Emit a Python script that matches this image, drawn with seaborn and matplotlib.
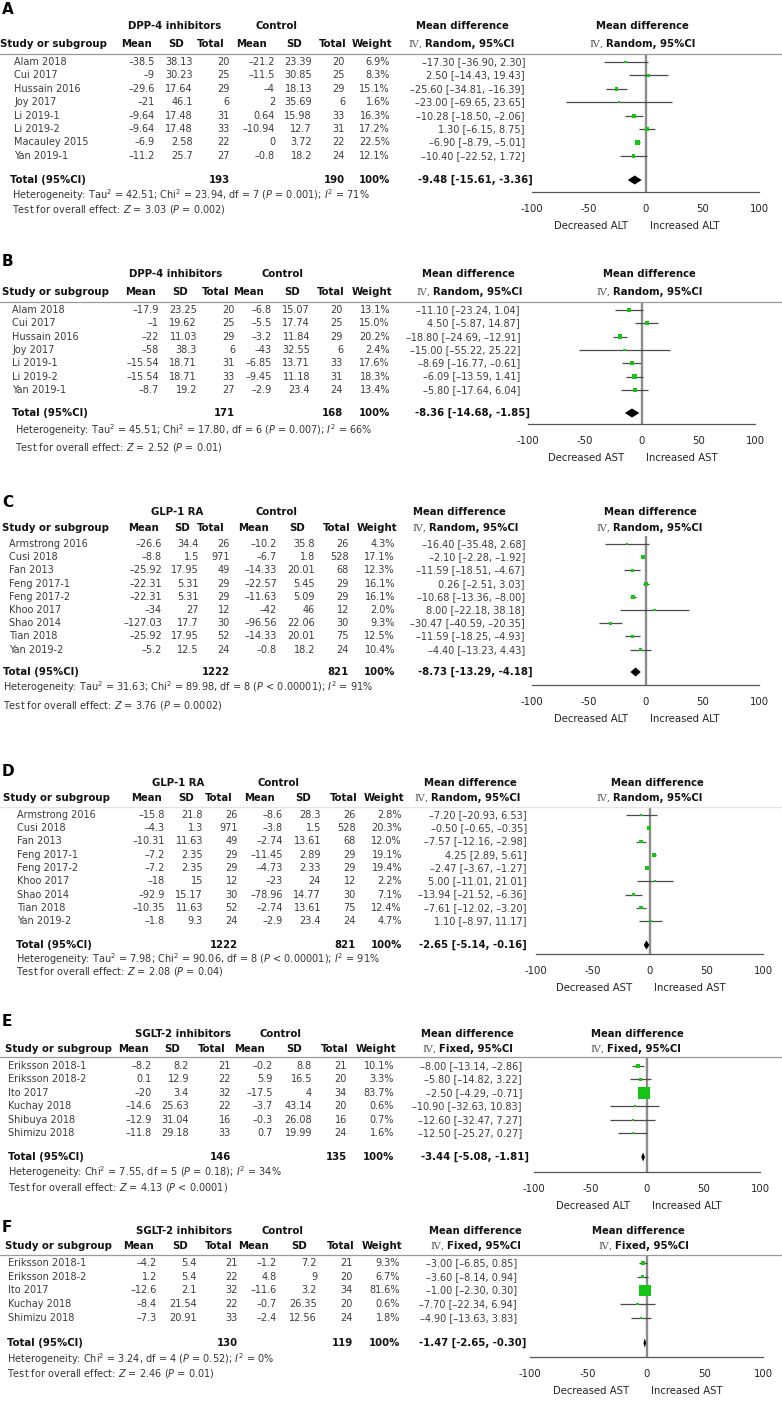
"""Forest plots A-F: ALT / AST change with DPP-4i, GLP-1 RA and SGLT-2i versus control."""
import matplotlib

matplotlib.use("Agg")
import matplotlib.pyplot as plt
import numpy as np
import pandas as pd
import seaborn as sns
from matplotlib.lines import Line2D

W, H = 782, 1403
GREEN = "#15c415"
INK = "#3b3b3b"
DASH = "\u2013"

# ---- A: ALT, DPP-4 inhibitors ----
a_study = ["Alam 2018", "Cui 2017", "Hussain 2016", "Joy 2017", "Li 2019-1", "Li 2019-2",
           "Macauley 2015", "Yan 2019-1"]
a_mean_t = [-38.5, -9, -29.6, -21, -9.64, -9.64, -6.9, -11.2]
a_sd_t = [38.13, 30.23, 17.64, 46.1, 17.48, 17.48, 2.58, 25.7]
a_n_t = [20, 25, 29, 6, 31, 33, 22, 27]
a_mean_c = [-21.2, -11.5, -4, 2, 0.64, -10.94, 0, -0.8]
a_sd_c = [23.39, 30.85, 18.13, 35.69, 15.98, 12.7, 3.72, 18.2]
a_n_c = [20, 25, 29, 6, 33, 31, 22, 24]
a_weight = [6.9, 8.3, 15.1, 1.6, 16.3, 17.2, 22.5, 12.1]
a_md = [-17.30, 2.50, -25.60, -23.00, -10.28, 1.30, -6.90, -10.40]
a_lo = [-36.90, -14.43, -34.81, -69.65, -18.50, -6.15, -8.79, -22.52]
a_hi = [2.30, 19.43, -16.39, 23.65, -2.06, 8.75, -5.01, 1.72]
a_total = (-9.48, -15.61, -3.36)
a_n_total = (193, 190)
a_stats = dict(tau2="42.51", chi2="23.94", df=7, p_het="= 0.001", i2=71, z="3.03", p_z="= 0.002")

# ---- B: AST, DPP-4 inhibitors ----
b_study = ["Alam 2018", "Cui 2017", "Hussain 2016", "Joy 2017", "Li 2019-1", "Li 2019-2", "Yan 2019-1"]
b_mean_t = [-17.9, -1, -22, -58, -15.54, -15.54, -8.7]
b_sd_t = [23.25, 19.62, 11.03, 38.3, 18.71, 18.71, 19.2]
b_n_t = [20, 25, 29, 6, 31, 33, 27]
b_mean_c = [-6.8, -5.5, -3.2, -43, -6.85, -9.45, -2.9]
b_sd_c = [15.07, 17.74, 11.84, 32.55, 13.71, 11.18, 23.4]
b_n_c = [20, 25, 29, 6, 33, 31, 24]
b_weight = [13.1, 15.0, 20.2, 2.4, 17.6, 18.3, 13.4]
b_md = [-11.10, 4.50, -18.80, -15.00, -8.69, -6.09, -5.80]
b_lo = [-23.24, -5.87, -24.69, -55.22, -16.77, -13.59, -17.64]
b_hi = [1.04, 14.87, -12.91, 25.22, -0.61, 1.41, 6.04]
b_total = (-8.36, -14.68, -1.85)
b_n_total = (171, 168)
b_stats = dict(tau2="45.51", chi2="17.80", df=6, p_het="= 0.007", i2=66, z="2.52", p_z="= 0.01")

# ---- C: ALT, GLP-1 RA ----
c_study = ["Armstrong 2016", "Cusi 2018", "Fan 2013", "Feng 2017-1", "Feng 2017-2", "Khoo 2017",
           "Shao 2014", "Tian 2018", "Yan 2019-2"]
c_mean_t = [-26.6, -8.8, -25.92, -22.31, -22.31, -34, -127.03, -25.92, -5.2]
c_sd_t = [34.4, 1.5, 17.95, 5.31, 5.31, 27, 17.7, 17.95, 12.5]
c_n_t = [26, 971, 49, 29, 29, 12, 30, 52, 24]
c_mean_c = [-10.2, -6.7, -14.33, -22.57, -11.63, -42, -96.56, -14.33, -0.8]
c_sd_c = [35.8, 1.8, 20.01, 5.45, 5.09, 46, 22.06, 20.01, 18.2]
c_n_c = [26, 528, 68, 29, 29, 12, 30, 75, 24]
c_weight = [4.3, 17.1, 12.3, 16.1, 16.1, 2.0, 9.3, 12.5, 10.4]
c_md = [-16.40, -2.10, -11.59, 0.26, -10.68, 8.00, -30.47, -11.59, -4.40]
c_lo = [-35.48, -2.28, -18.51, -2.51, -13.36, -22.18, -40.59, -18.25, -13.23]
c_hi = [2.68, -1.92, -4.67, 3.03, -8.00, 38.18, -20.35, -4.93, 4.43]
c_total = (-8.73, -13.29, -4.18)
c_n_total = (1222, 821)
c_stats = dict(tau2="31.63", chi2="89.98", df=8, p_het="< 0.00001", i2=91, z="3.76", p_z="= 0.0002")

# ---- D: AST, GLP-1 RA ----
d_study = c_study
d_mean_t = [-15.8, -4.3, -10.31, -7.2, -7.2, -18, -92.9, -10.35, -1.8]
d_sd_t = [21.8, 1.3, 11.63, 2.35, 2.35, 15, 15.17, 11.63, 9.3]
d_n_t = [26, 971, 49, 29, 29, 12, 30, 52, 24]
d_mean_c = [-8.6, -3.8, -2.74, -11.45, -4.73, -23, -78.96, -2.74, -2.9]
d_sd_c = [28.3, 1.5, 13.61, 2.89, 2.33, 24, 14.77, 13.61, 23.4]
d_n_c = [26, 528, 68, 29, 29, 12, 30, 75, 24]
d_weight = [2.8, 20.3, 12.0, 19.1, 19.4, 2.2, 7.1, 12.4, 4.7]
d_md = [-7.20, -0.50, -7.57, 4.25, -2.47, 5.00, -13.94, -7.61, 1.10]
d_lo = [-20.93, -0.65, -12.16, 2.89, -3.67, -11.01, -21.52, -12.02, -8.97]
d_hi = [6.53, -0.35, -2.98, 5.61, -1.27, 21.01, -6.36, -3.20, 11.17]
d_total = (-2.65, -5.14, -0.16)
d_n_total = (1222, 821)
d_stats = dict(tau2="7.98", chi2="90.06", df=8, p_het="< 0.00001", i2=91, z="2.08", p_z="= 0.04")

# ---- E: ALT, SGLT-2 inhibitors ----
e_study = ["Eriksson 2018-1", "Eriksson 2018-2", "Ito 2017", "Kuchay 2018", "Shibuya 2018", "Shimizu 2018"]
e_mean_t = [-8.2, 0.1, -20, -14.6, -12.9, -11.8]
e_sd_t = [8.2, 12.9, 3.4, 25.63, 31.04, 29.18]
e_n_t = [21, 22, 32, 22, 16, 33]
e_mean_c = [-0.2, 5.9, -17.5, -3.7, -0.3, 0.7]
e_sd_c = [8.8, 16.5, 4, 43.14, 26.08, 19.99]
e_n_c = [21, 20, 34, 20, 16, 24]
e_weight = [10.1, 3.3, 83.7, 0.6, 0.7, 1.6]
e_md = [-8.00, -5.80, -2.50, -10.90, -12.60, -12.50]
e_lo = [-13.14, -14.82, -4.29, -32.63, -32.47, -25.27]
e_hi = [-2.86, 3.22, -0.71, 10.83, 7.27, 0.27]
e_total = (-3.44, -5.08, -1.81)
e_n_total = (146, 135)
e_stats = dict(tau2=None, chi2="7.55", df=5, p_het="= 0.18", i2=34, z="4.13", p_z="< 0.0001")

# ---- F: AST, SGLT-2 inhibitors ----
f_study = ["Eriksson 2018-1", "Eriksson 2018-2", "Ito 2017", "Kuchay 2018", "Shimizu 2018"]
f_mean_t = [-4.2, 1.2, -12.6, -8.4, -7.3]
f_sd_t = [5.4, 5.4, 2.1, 21.54, 20.91]
f_n_t = [21, 22, 32, 22, 33]
f_mean_c = [-1.2, 4.8, -11.6, -0.7, -2.4]
f_sd_c = [7.2, 9, 3.2, 26.35, 12.56]
f_n_c = [21, 20, 34, 20, 24]
f_weight = [9.3, 6.7, 81.6, 0.6, 1.8]
f_md = [-3.00, -3.60, -1.00, -7.70, -4.90]
f_lo = [-6.85, -8.14, -2.30, -22.34, -13.63]
f_hi = [0.85, 0.94, 0.30, 6.94, 3.83]
f_total = (-1.47, -2.65, -0.30)
f_n_total = (130, 119)
f_stats = dict(tau2=None, chi2="3.24", df=4, p_het="= 0.52", i2=0, z="2.46", p_z="= 0.01")

PANELS = [
    ("A", "DPP-4 inhibitors", "ALT", "Random", a_study, a_mean_t, a_sd_t, a_n_t, a_mean_c, a_sd_c, a_n_c,
     a_weight, a_md, a_lo, a_hi, a_total, a_n_total, a_stats),
    ("B", "DPP-4 inhibitors", "AST", "Random", b_study, b_mean_t, b_sd_t, b_n_t, b_mean_c, b_sd_c, b_n_c,
     b_weight, b_md, b_lo, b_hi, b_total, b_n_total, b_stats),
    ("C", "GLP-1 RA", "ALT", "Random", c_study, c_mean_t, c_sd_t, c_n_t, c_mean_c, c_sd_c, c_n_c,
     c_weight, c_md, c_lo, c_hi, c_total, c_n_total, c_stats),
    ("D", "GLP-1 RA", "AST", "Random", d_study, d_mean_t, d_sd_t, d_n_t, d_mean_c, d_sd_c, d_n_c,
     d_weight, d_md, d_lo, d_hi, d_total, d_n_total, d_stats),
    ("E", "SGLT-2 inhibitors", "ALT", "Fixed", e_study, e_mean_t, e_sd_t, e_n_t, e_mean_c, e_sd_c, e_n_c,
     e_weight, e_md, e_lo, e_hi, e_total, e_n_total, e_stats),
    ("F", "SGLT-2 inhibitors", "AST", "Fixed", f_study, f_mean_t, f_sd_t, f_n_t, f_mean_c, f_sd_c, f_n_c,
     f_weight, f_md, f_lo, f_hi, f_total, f_n_total, f_stats),
]

# pixel layout of every panel (y = text centre, x = right edge of value columns)
LAYOUT = {
    "A": dict(letter=10, group=26, head=44, line=54, first=62, dy=13.4, total=180, het=195, test=210,
              axis=192, fx=(532, 759), name_x=14, study_x=0, total_x=10, het_x=12,
              cols=[155, 193, 230, 275, 312, 345, 390], md_r=525, md_tot_r=533, grp=(175, 276),
              mdh=(462, 642), ivx=(425, 606), rule="#999999"),
    "B": dict(letter=262, group=274, head=292, line=302, first=310, dy=13.3, total=413, het=430, test=447,
              axis=424, fx=(528, 755), name_x=12, study_x=2, total_x=12, het_x=15,
              cols=[159, 197, 235, 272, 310, 343, 390], md_r=520, md_tot_r=530, grp=(176, 283),
              mdh=(468, 649), ivx=(433, 613), rule="#999999"),
    "C": dict(letter=503, group=512, head=528, line=536, first=544, dy=13.2, total=672, het=687, test=705,
              axis=685, fx=(532, 759), name_x=9, study_x=2, total_x=3, het_x=3,
              cols=[162, 199, 230, 277, 315, 349, 395], md_r=525, md_tot_r=533, grp=(177, 277),
              mdh=(459, 650), ivx=(429, 613), rule=None),
    "D": dict(letter=772, group=783, head=798, line=807, first=815, dy=13.25, total=945, het=959, test=972,
              axis=954, fx=(536, 763), name_x=17, study_x=3, total_x=16, het_x=16,
              cols=[165, 203, 238, 283, 321, 356, 402], md_r=527, md_tot_r=527, grp=(178, 279),
              mdh=(470, 657), ivx=(431, 613), rule="#e4e4e4"),
    "E": dict(letter=1021, group=1034, head=1049, line=1057, first=1066, dy=13.4, total=1157, het=1172,
              test=1187, axis=1172, fx=(534, 760), name_x=8, study_x=5, total_x=8, het_x=8,
              cols=[152, 189, 231, 273, 312, 347, 394], md_r=522, md_tot_r=529, grp=(183, 281),
              mdh=(467, 637), ivx=(439, 607), rule="#999999"),
    "F": dict(letter=1227, group=1231, head=1246, line=1255, first=1263, dy=13.7, total=1343, het=1359,
              test=1373, axis=1357, fx=(530, 763), name_x=8, study_x=5, total_x=7, het_x=7,
              cols=[157, 197, 238, 277, 317, 353, 400], md_r=517, md_tot_r=526, grp=(184, 282),
              mdh=(475, 638), ivx=(447, 615), rule="#999999"),
}
HEAD_SHIFT = [-3, -9, -5, -8, -10, 2, 2]
HEADERS = ["Mean", "SD", "Total", "Mean", "SD", "Total", "Weight"]

sns.set_style("white")
plt.rcParams["font.family"] = ["DejaVu Sans"]
plt.rcParams["mathtext.fontset"] = "dejavusans"

fig = plt.figure(figsize=(W / 100, H / 100), dpi=100)
fig.patch.set_facecolor("white")


def put(x, y, s, ha="left", size=7, bold=False, color=INK, **kw):
    fig.text(x / W, 1 - y / H, s, ha=ha, va="center", fontsize=size,
             fontweight="bold" if bold else "normal", color=color, **kw)


def num(v):
    return f"{v:g}".replace("-", DASH)


def ci(m, lo, hi):
    return f"{m:.2f} [{lo:.2f}, {hi:.2f}]"


def forest(L, md, lo, hi, weight, total, enzyme):
    x0, x1 = L["fx"]
    first, dy = L["first"], L["dy"]
    ax = fig.add_axes([x0 / W, 1 - L["axis"] / H, (x1 - x0) / W, (L["axis"] - L["line"]) / H])
    df = pd.DataFrame({"md": md, "lo": lo, "hi": hi, "weight": weight})
    df["row"] = np.arange(len(df))
    # square side grows with study weight (RevMan style)
    df["area"] = (0.72 * (2 + 0.12 * df["weight"])) ** 2

    ax.axvline(0, color="#8c8c8c", lw=1.7, zorder=1)
    ax.hlines(df["row"], df["lo"], df["hi"], color="#4a4a4a", lw=0.9, zorder=2)
    sns.scatterplot(data=df, x="md", y="row", marker="s", s=df["area"], color=GREEN,
                    linewidth=0, legend=False, ax=ax, zorder=3)
    ty = (L["total"] - first) / dy
    h = 4.5 / dy
    m, tlo, thi = total
    ax.fill([tlo, m, thi, m], [ty, ty - h, ty, ty + h], color="black", lw=0, zorder=4)

    ax.set_xlim(-100, 100)
    ax.set_ylim((L["axis"] - first) / dy, (L["line"] - first) / dy)
    for side in ("top", "left", "right"):
        ax.spines[side].set_visible(False)
    ax.spines["bottom"].set_color("#555555")
    ax.spines["bottom"].set_linewidth(0.9)
    ax.set_xticks([-100, -50, 0, 50, 100])
    ax.set_xticklabels(["-100", "-50", "0", "50", "100"])
    ax.tick_params(axis="x", direction="inout", length=7, width=0.9, color="#555555",
                   labelsize=7.3, labelcolor="#222222", pad=5)
    ax.set_yticks([])
    ax.set_xlabel("")
    ax.set_ylabel("")
    ax.patch.set_alpha(0)
    for x, txt, ha in ((-15, f"Decreased {enzyme}", "right"), (4, f"Increased {enzyme}", "left")):
        ax.annotate(txt, xy=(x, 0), xycoords=("data", "axes fraction"), xytext=(0, -34 * 0.72),
                    textcoords="offset points", ha=ha, va="center", fontsize=7.3,
                    color="#222222", annotation_clip=False)


for (key, group, enzyme, model, study, mean_t, sd_t, n_t, mean_c, sd_c, n_c,
     weight, md, lo, hi, total, n_total, st) in PANELS:
    L = LAYOUT[key]
    cols = L["cols"]

    put(2, L["letter"], key, size=11, bold=True, color="black")
    # header block
    put(L["grp"][0], L["group"], group, ha="center", size=7.3, bold=True, color="#111111")
    put(L["grp"][1], L["group"], "Control", ha="center", size=7.3, bold=True, color="#111111")
    put(L["study_x"], L["head"], "Study or subgroup", size=7.3, bold=True, color="#111111")
    for c, s, hdr in zip(cols, HEAD_SHIFT, HEADERS):
        put(c + s, L["head"], hdr, ha="right", size=7.3, bold=True, color="#111111")
    for xc in L["mdh"]:
        put(xc, L["group"], "Mean difference", ha="center", size=7.3, bold=True, color="#111111")
    for xb in L["ivx"]:
        put(xb, L["head"], "\u2163, ", ha="right", size=7.3, color="#555555",
            family=["DejaVu Serif", "DejaVu Sans"])
        put(xb, L["head"], f"{model}, 95%CI", size=7.3, bold=True, color="#111111")
    if L["rule"]:
        yf = 1 - L["line"] / H
        fig.add_artist(Line2D([0, 1], [yf, yf], color=L["rule"], lw=0.9))

    # study rows
    for i in range(len(study)):
        y = L["first"] + i * L["dy"]
        put(L["name_x"], y, study[i])
        vals = [num(mean_t[i]), num(sd_t[i]), str(n_t[i]), num(mean_c[i]), num(sd_c[i]),
                str(n_c[i]), f"{weight[i]:.1f}%"]
        for c, v in zip(cols, vals):
            put(c, y, v, ha="right")
        put(L["md_r"], y, ci(md[i], lo[i], hi[i]).replace("-", DASH), ha="right")

    # pooled row
    y = L["total"]
    put(L["total_x"], y, "Total (95%CI)", size=7.3, bold=True, color="#111111")
    put(cols[2], y, str(n_total[0]), ha="right", size=7.3, bold=True, color="#111111")
    put(cols[5], y, str(n_total[1]), ha="right", size=7.3, bold=True, color="#111111")
    put(cols[6], y, "100%", ha="right", size=7.3, bold=True, color="#111111")
    put(L["md_tot_r"], y, ci(*total), ha="right", size=7.3, bold=True, color="#111111")

    het = "Heterogeneity: "
    if st["tau2"]:
        het += f"Tau$^2$ = {st['tau2']}; "
    het += f"Chi$^2$ = {st['chi2']}, df = {st['df']} ($P$ {st['p_het']}); $I^2$ = {st['i2']}%"
    put(L["het_x"], L["het"], het, color="#333333")
    put(L["het_x"], L["test"], f"Test for overall effect: $Z$ = {st['z']} ($P$ {st['p_z']})",
        color="#333333")

    forest(L, md, lo, hi, weight, total, enzyme)

fig.savefig("out.png", dpi=100, facecolor="white")
